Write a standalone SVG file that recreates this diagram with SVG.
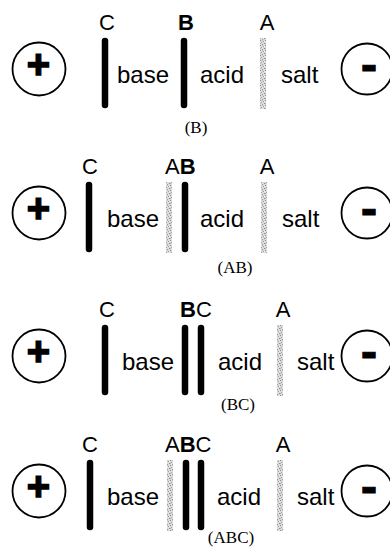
<svg xmlns="http://www.w3.org/2000/svg" width="390" height="548" viewBox="0 0 390 548">
<defs>
<pattern id="dots" width="5" height="5" patternUnits="userSpaceOnUse">
<rect width="5" height="5" fill="#dcdcdc"/>
<rect x="0" y="0" width="1" height="1" fill="#8c8c8c"/>
<rect x="3" y="1" width="1" height="1" fill="#9c9c9c"/>
<rect x="1" y="2" width="1" height="1" fill="#a4a4a4"/>
<rect x="4" y="3" width="1" height="1" fill="#909090"/>
<rect x="2" y="4" width="1" height="1" fill="#a0a0a0"/>
<rect x="2" y="0" width="1" height="1" fill="#c4c4c4"/>
<rect x="0" y="3" width="1" height="1" fill="#b4b4b4"/>
<rect x="4" y="1" width="1" height="1" fill="#eeeeee"/>
</pattern>
<style>
.elec{fill:none;stroke:#000;stroke-width:1.8}
.sign{font-family:"Liberation Sans",Arial,sans-serif;font-weight:bold;fill:#000;stroke:#000;text-anchor:middle}
.bar{stroke:#000;stroke-width:6.5;stroke-linecap:round;fill:none}
.gbar{fill:url(#dots)}
.txt{font-family:"Liberation Sans",Arial,sans-serif;font-size:24px;fill:#000}
.lbl{font-family:"Liberation Sans",Arial,sans-serif;font-size:22px;fill:#000}
.lblc{text-anchor:middle}
.bold{font-weight:bold}
.cap{font-family:"Liberation Serif","Times New Roman",serif;font-size:17px;fill:#000;text-anchor:middle}
</style>
</defs>

<!-- Panel 1 (B) -->
<g id="panel-B">
<g id="B-anode"><circle class="elec" cx="39" cy="69" r="26.5"/><text class="sign" x="38.5" y="78" font-size="40" stroke-width="1.5">+</text></g>
<g id="B-cathode"><circle class="elec" cx="367" cy="69" r="25.5"/><text class="sign" x="369" y="81" font-size="48" stroke-width="1.2">-</text></g>
<g id="B-memC"><line class="bar" x1="105" y1="41" x2="105" y2="105"/><text class="lbl lblc" x="107" y="30">C</text></g>
<g id="B-memB"><line class="bar" x1="184" y1="41" x2="184" y2="105"/><text class="lbl lblc bold" x="186" y="30">B</text></g>
<g id="B-memA"><rect class="gbar" x="260" y="38" width="6" height="71"/><text class="lbl lblc" x="267" y="30">A</text></g>
<text class="txt" x="117" y="83">base</text>
<text class="txt" x="200" y="83">acid</text>
<text class="txt" x="281" y="83">salt</text>
<text class="cap" x="196" y="133">(B)</text>
</g>

<!-- Panel 2 (AB) -->
<g id="panel-AB">
<g id="AB-anode"><circle class="elec" cx="39" cy="213" r="26.5"/><text class="sign" x="38.5" y="222" font-size="40" stroke-width="1.5">+</text></g>
<g id="AB-cathode"><circle class="elec" cx="367" cy="213" r="25.5"/><text class="sign" x="369" y="225" font-size="48" stroke-width="1.2">-</text></g>
<g id="AB-memC"><line class="bar" x1="89" y1="185" x2="89" y2="249"/><text class="lbl lblc" x="90" y="174">C</text></g>
<g id="AB-memAB"><rect class="gbar" x="166" y="182" width="6" height="71"/><line class="bar" x1="185" y1="185" x2="185" y2="249"/><text class="lbl" x="165" y="174">A<tspan class="bold">B</tspan></text></g>
<g id="AB-memA"><rect class="gbar" x="261" y="182" width="6" height="71"/><text class="lbl lblc" x="267" y="174">A</text></g>
<text class="txt" x="107" y="227">base</text>
<text class="txt" x="200" y="227">acid</text>
<text class="txt" x="282" y="227">salt</text>
<text class="cap" x="235" y="273">(AB)</text>
</g>

<!-- Panel 3 (BC) -->
<g id="panel-BC">
<g id="BC-anode"><circle class="elec" cx="39" cy="356" r="26.5"/><text class="sign" x="38.5" y="365" font-size="40" stroke-width="1.5">+</text></g>
<g id="BC-cathode"><circle class="elec" cx="367" cy="356" r="25.5"/><text class="sign" x="369" y="368" font-size="48" stroke-width="1.2">-</text></g>
<g id="BC-memC"><line class="bar" x1="105" y1="328" x2="105" y2="392"/><text class="lbl lblc" x="107" y="317">C</text></g>
<g id="BC-memBC"><line class="bar" x1="185" y1="328" x2="185" y2="392"/><line class="bar" x1="201" y1="328" x2="201" y2="392"/><text class="lbl" x="180" y="317"><tspan class="bold">B</tspan>C</text></g>
<g id="BC-memA"><rect class="gbar" x="277" y="325" width="6" height="71"/><text class="lbl lblc" x="283" y="317">A</text></g>
<text class="txt" x="122" y="370">base</text>
<text class="txt" x="218" y="370">acid</text>
<text class="txt" x="297" y="370">salt</text>
<text class="cap" x="238" y="410">(BC)</text>
</g>

<!-- Panel 4 (ABC) -->
<g id="panel-ABC">
<g id="ABC-anode"><circle class="elec" cx="39" cy="491" r="26.5"/><text class="sign" x="38.5" y="500" font-size="40" stroke-width="1.5">+</text></g>
<g id="ABC-cathode"><circle class="elec" cx="367" cy="491" r="25.5"/><text class="sign" x="369" y="503" font-size="48" stroke-width="1.2">-</text></g>
<g id="ABC-memC"><line class="bar" x1="90" y1="463" x2="90" y2="527"/><text class="lbl lblc" x="90" y="452">C</text></g>
<g id="ABC-memABC"><rect class="gbar" x="167" y="460" width="6" height="71"/><line class="bar" x1="186" y1="463" x2="186" y2="527"/><line class="bar" x1="201" y1="463" x2="201" y2="527"/><text class="lbl" x="165" y="452">A<tspan class="bold">B</tspan>C</text></g>
<g id="ABC-memA"><rect class="gbar" x="277" y="460" width="6" height="71"/><text class="lbl lblc" x="283" y="452">A</text></g>
<text class="txt" x="107" y="505">base</text>
<text class="txt" x="217" y="505">acid</text>
<text class="txt" x="297" y="505">salt</text>
<text class="cap" x="231" y="543">(ABC)</text>
</g>

<g id="connectors"></g>
</svg>
